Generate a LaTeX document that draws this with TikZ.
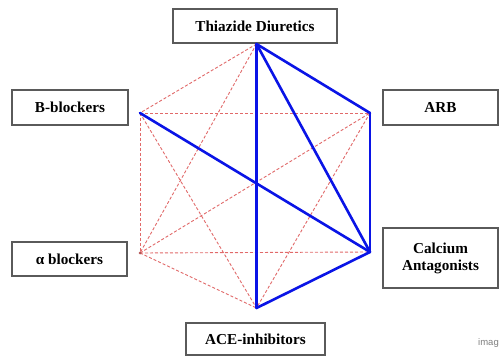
\documentclass[tikz,border=0pt]{standalone}
\usepackage{fontspec}
\setmainfont{Liberation Serif}
\newfontfamily\wmfont{Liberation Sans}
\definecolor{boxgray}{RGB}{90,90,90}
\definecolor{dashred}{RGB}{225,105,105}
\definecolor{lineblue}{RGB}{10,20,230}
\begin{document}
\begin{tikzpicture}[x=1pt,y=1pt,
  drugbox/.style={draw=boxgray,line width=1.1pt,fill=white,inner sep=2pt,font=\fontsize{15.2}{17}\selectfont\bfseries,align=center},
  weak/.style={draw=dashred,line width=0.9pt,dash pattern=on 3pt off 2pt},
  strong/.style={draw=lineblue,line width=2.6pt,line cap=round,line join=round}]
\useasboundingbox (0,0) rectangle (499,357);
\fill[white] (0,0) rectangle (499,357);
% boxes
\node[drugbox,minimum width=164pt,minimum height=34pt] (thz) at (255,331) {Thiazide Diuretics};
\node[drugbox,minimum width=116pt,minimum height=35pt] (bbl) at (70,249.5) {B-blockers};
\node[drugbox,minimum width=115pt,minimum height=35pt] (arb) at (440.5,249.5) {ARB};
\node[drugbox,minimum width=115pt,minimum height=34pt] (abl) at (69.5,98) {α blockers};
\node[drugbox,minimum width=115pt,minimum height=60pt] (cal) at (440.5,99) {Calcium\\Antagonists};
\node[drugbox,minimum width=139pt,minimum height=32pt] (ace) at (255.5,18) {ACE-inhibitors};
% hexagon vertices
\coordinate (T) at (256.5,313);
\coordinate (A) at (370,244);
\coordinate (C) at (370,105);
\coordinate (E) at (256.5,49);
\coordinate (L) at (140,104);
\coordinate (B) at (140,244);
% weak (dashed) combinations
\draw[weak] (T) -- (B);
\draw[weak] (T) -- (L);
\draw[weak] (B) -- (A);
\draw[weak] (B) -- (L);
\draw[weak] (B) -- (E);
\draw[weak] (L) -- (A);
\draw[weak] (L) -- (C);
\draw[weak] (L) -- (E);
\draw[weak] (A) -- (E);
\fill[dashred!80!black] (L) circle (1.5pt);
% strong (solid) combinations
\draw[strong] (T) -- (E);
\draw[strong] (T) -- (A);
\draw[strong] (T) -- (C);
\draw[strong] (A) -- (C);
\draw[strong] (C) -- (E);
\draw[strong] (B) -- (C);
% watermark fragment
\node[anchor=east,text=gray,font=\wmfont\fontsize{9.5}{10}\selectfont,inner sep=0pt] (wm) at (499,14) {imag};
\end{tikzpicture}
\end{document}
